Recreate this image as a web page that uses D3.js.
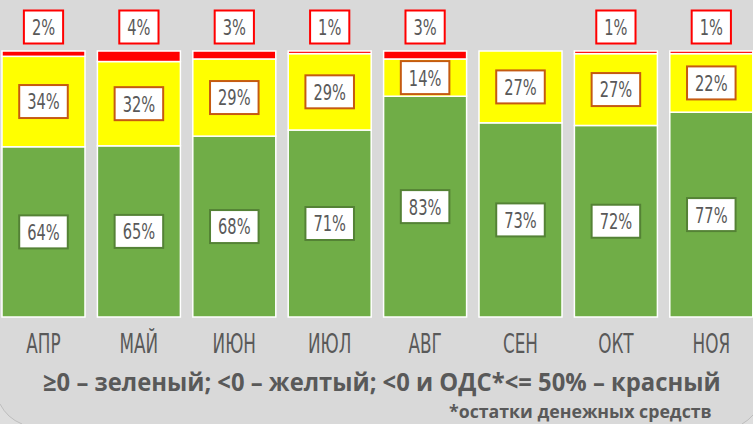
<!DOCTYPE html>
<html><head><meta charset="utf-8">
<script src="https://cdn.jsdelivr.net/npm/d3@7"></script>
<style>html,body{margin:0;padding:0;background:#d9d9d9;overflow:hidden}</style>
</head><body>
<svg id="c" width="753" height="424"></svg>
<script>
const months = ["АПР","МАЙ","ИЮН","ИЮЛ","АВГ","СЕН","ОКТ","НОЯ"];
const green  = [64,65,68,71,83,73,72,77];
const yellow = [34,32,29,29,14,27,27,22];
const red    = [2,4,3,1,3,0,1,1];
const legendText = "≥0 – зеленый; <0 – желтый; <0 и ОДС*<= 50% – красный";
const footText = "*остатки денежных средств";

const rows = months.map((m,i)=>({m, green:green[i], yellow:yellow[i], red:red[i]}));
const keys = ["green","yellow","red"];
const fill = {green:"#70ad47", yellow:"#ffff00", red:"#ff0000"};
const border = {green:"#548235", yellow:"#c55a11", red:"#ff0000"};

const svg = d3.select("#c");
const W=753,H=424;
svg.append("rect").attr("width",W).attr("height",H).attr("fill","#d9d9d9");
svg.append("path").attr("d","M0,404 A42,42 0 0 0 22,424 L0,424 Z").attr("fill","#dedede");
svg.append("path").attr("d","M0,404 A42,42 0 0 0 22,424").attr("fill","none").attr("stroke","#bdbdbd").attr("stroke-width",1);
svg.append("path").attr("d","M742,424 A40,40 0 0 0 753,415 L753,424 Z").attr("fill","#dedede");
svg.append("path").attr("d","M742,424 A40,40 0 0 0 753,415").attr("fill","none").attr("stroke","#bdbdbd").attr("stroke-width",1);

const x = d3.scaleBand().domain(months).range([2,752.8]).paddingInner(0.13).paddingOuter(0);
const y = d3.scaleLinear().domain([0,1]).range([317,51]);

const series = d3.stack().keys(keys).offset(d3.stackOffsetExpand)(rows);

const g = svg.append("g");
series.forEach(s=>{
  g.selectAll(null).data(s.filter(d=>d.data[s.key]>0)).join("rect")
    .attr("x",d=>x(d.data.m)).attr("width",x.bandwidth())
    .attr("y",d=>y(d[1])).attr("height",d=>Math.max(0,y(d[0])-y(d[1])))
    .attr("fill",fill[s.key]).attr("stroke","#ffffff").attr("stroke-width",1.5);
});

const LF = "'Liberation Sans Narrow','Arial Narrow','DejaVu Sans Condensed',sans-serif";
const LS = 0.74;
function label(cx, cy, txt, col){
  const lg = svg.append("g").attr("transform",`translate(${cx},${cy})`);
  const r = lg.append("rect").attr("fill","#ffffff").attr("stroke",col).attr("stroke-width",2);
  const t = lg.append("text").attr("text-anchor","middle").attr("dy","0.36em")
    .attr("font-family",LF).attr("font-size",22).attr("fill","#595959")
    .attr("transform",`scale(${LS},1)`).text(txt);
  const w = t.node().getComputedTextLength()*LS;
  const bw = w+16, bh=33;
  r.attr("x",-bw/2).attr("y",-bh/2).attr("width",bw).attr("height",bh);
}
series.forEach(s=>{
  s.forEach(d=>{
    const v = d.data[s.key];
    if(v<=0) return;
    const cx = x(d.data.m)+x.bandwidth()/2;
    let cy;
    if(s.key==="red") cy = y(1)-24;
    else cy = (y(d[0])+y(d[1]))/2;
    label(cx, cy, v+"%", border[s.key]);
  });
});

// x axis labels
const ax = d3.axisBottom(x).tickSize(0).tickPadding(0);
const axg = svg.append("g").attr("transform","translate(0,335)").call(ax);
axg.select(".domain").remove();
axg.selectAll(".tick text").attr("font-family",LF).attr("font-size",26).attr("fill","#595959")
  .attr("dy","0.71em").attr("x",0).attr("y",0).attr("transform","scale(0.72,1)");

// legend
const BF = "'Open Sans','Noto Sans',sans-serif";
function fitText(txt, x0, x1, base, size){
  const t = svg.append("text").attr("font-family",BF).attr("font-weight",700)
    .attr("font-size",size).attr("fill","#595959").text(txt);
  const w = t.node().getComputedTextLength();
  const k = (x1-x0)/w;
  t.attr("transform",`translate(${x0},${base}) scale(${k},1)`);
}
fitText(legendText, 43, 721, 391, 25);
fitText(footText, 449, 712, 418, 17);
</script>
</body></html>
